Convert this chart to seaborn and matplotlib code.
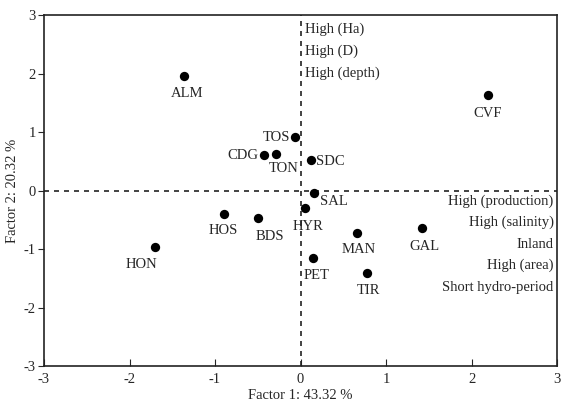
import seaborn as sns
import matplotlib.pyplot as plt
import pandas as pd

# site scores on the first two factors
sites = ['ALM', 'CVF', 'TOS', 'CDG', 'TON', 'SDC', 'SAL', 'HYR', 'HOS', 'BDS',
         'HON', 'PET', 'MAN', 'TIR', 'GAL']
factor1 = [-1.36, 2.19, -0.06, -0.43, -0.29, 0.12, 0.16, 0.05, -0.89, -0.50,
           -1.70, 0.15, 0.66, 0.78, 1.42]
factor2 = [1.96, 1.63, 0.91, 0.60, 0.63, 0.52, -0.04, -0.30, -0.40, -0.47,
           -0.96, -1.16, -0.73, -1.41, -0.64]

top_text = ['High (Ha)', 'High (D)', 'High (depth)']
right_text = ['High (production)', 'High (salinity)', 'Inland', 'High (area)',
              'Short hydro-period']

# label offsets in points (dx, dy, ha)
offsets = {
    'ALM': (2, -12.5, 'center'), 'CVF': (0, -13, 'center'),
    'TOS': (-4, 0, 'right'), 'CDG': (-4, 0, 'right'),
    'TON': (6, -10.5, 'center'), 'SDC': (4, -1, 'left'),
    'SAL': (4, -6, 'left'), 'HYR': (2, -13, 'center'),
    'HOS': (-1, -12, 'center'), 'BDS': (9, -13, 'center'),
    'HON': (-10, -13, 'center'), 'PET': (2, -12.5, 'center'),
    'MAN': (1, -12, 'center'), 'TIR': (1, -12.5, 'center'),
    'GAL': (2, -13, 'center'),
}

df = pd.DataFrame({'site': sites, 'f1': factor1, 'f2': factor2})

sns.set_style('ticks')
plt.rcParams['font.family'] = ['Liberation Serif', 'DejaVu Serif']
plt.rcParams['axes.unicode_minus'] = False

fig = plt.figure(figsize=(5.63, 4.07), dpi=100)
ax = fig.add_axes([0.0782, 0.1007, 0.9112, 0.8624])

ax.axhline(0, color='#222222', ls=(0, (3, 3)), lw=1.2, zorder=1)
ax.axvline(0, color='#222222', ls=(0, (3, 3)), lw=1.2, zorder=1)

sns.scatterplot(data=df, x='f1', y='f2', color='black', s=45, edgecolor='black',
                linewidth=0, ax=ax, zorder=3)

for _, r in df.iterrows():
    dx, dy, ha = offsets[r['site']]
    ax.annotate(r['site'], (r['f1'], r['f2']), xytext=(dx, dy),
                textcoords='offset points', ha=ha, va='center', fontsize=10.5)

for i, t in enumerate(top_text):
    ax.text(0.05, 2.75 - i * 0.37, t, ha='left', va='center', fontsize=10.5)
for i, t in enumerate(right_text):
    ax.text(2.96, -0.18 - i * 0.368, t, ha='right', va='center', fontsize=10.5)

ax.set_xlim(-3, 3)
ax.set_ylim(-3, 3)
ax.set_xticks(range(-3, 4))
ax.set_yticks(range(-3, 4))
ax.tick_params(axis='x', direction='in', length=5, labelsize=10.5, pad=5)
ax.tick_params(axis='y', direction='out', length=4, labelsize=10.5, pad=2)
for s in ax.spines.values():
    s.set_visible(True)
    s.set_linewidth(1.2)
    s.set_color('#222222')

ax.set_xlabel('Factor 1: 43.32 %', fontsize=10.5, labelpad=2)
ax.set_ylabel('Factor 2: 20.32 %', fontsize=10.5, labelpad=3)

fig.savefig('out.png', dpi=100)
